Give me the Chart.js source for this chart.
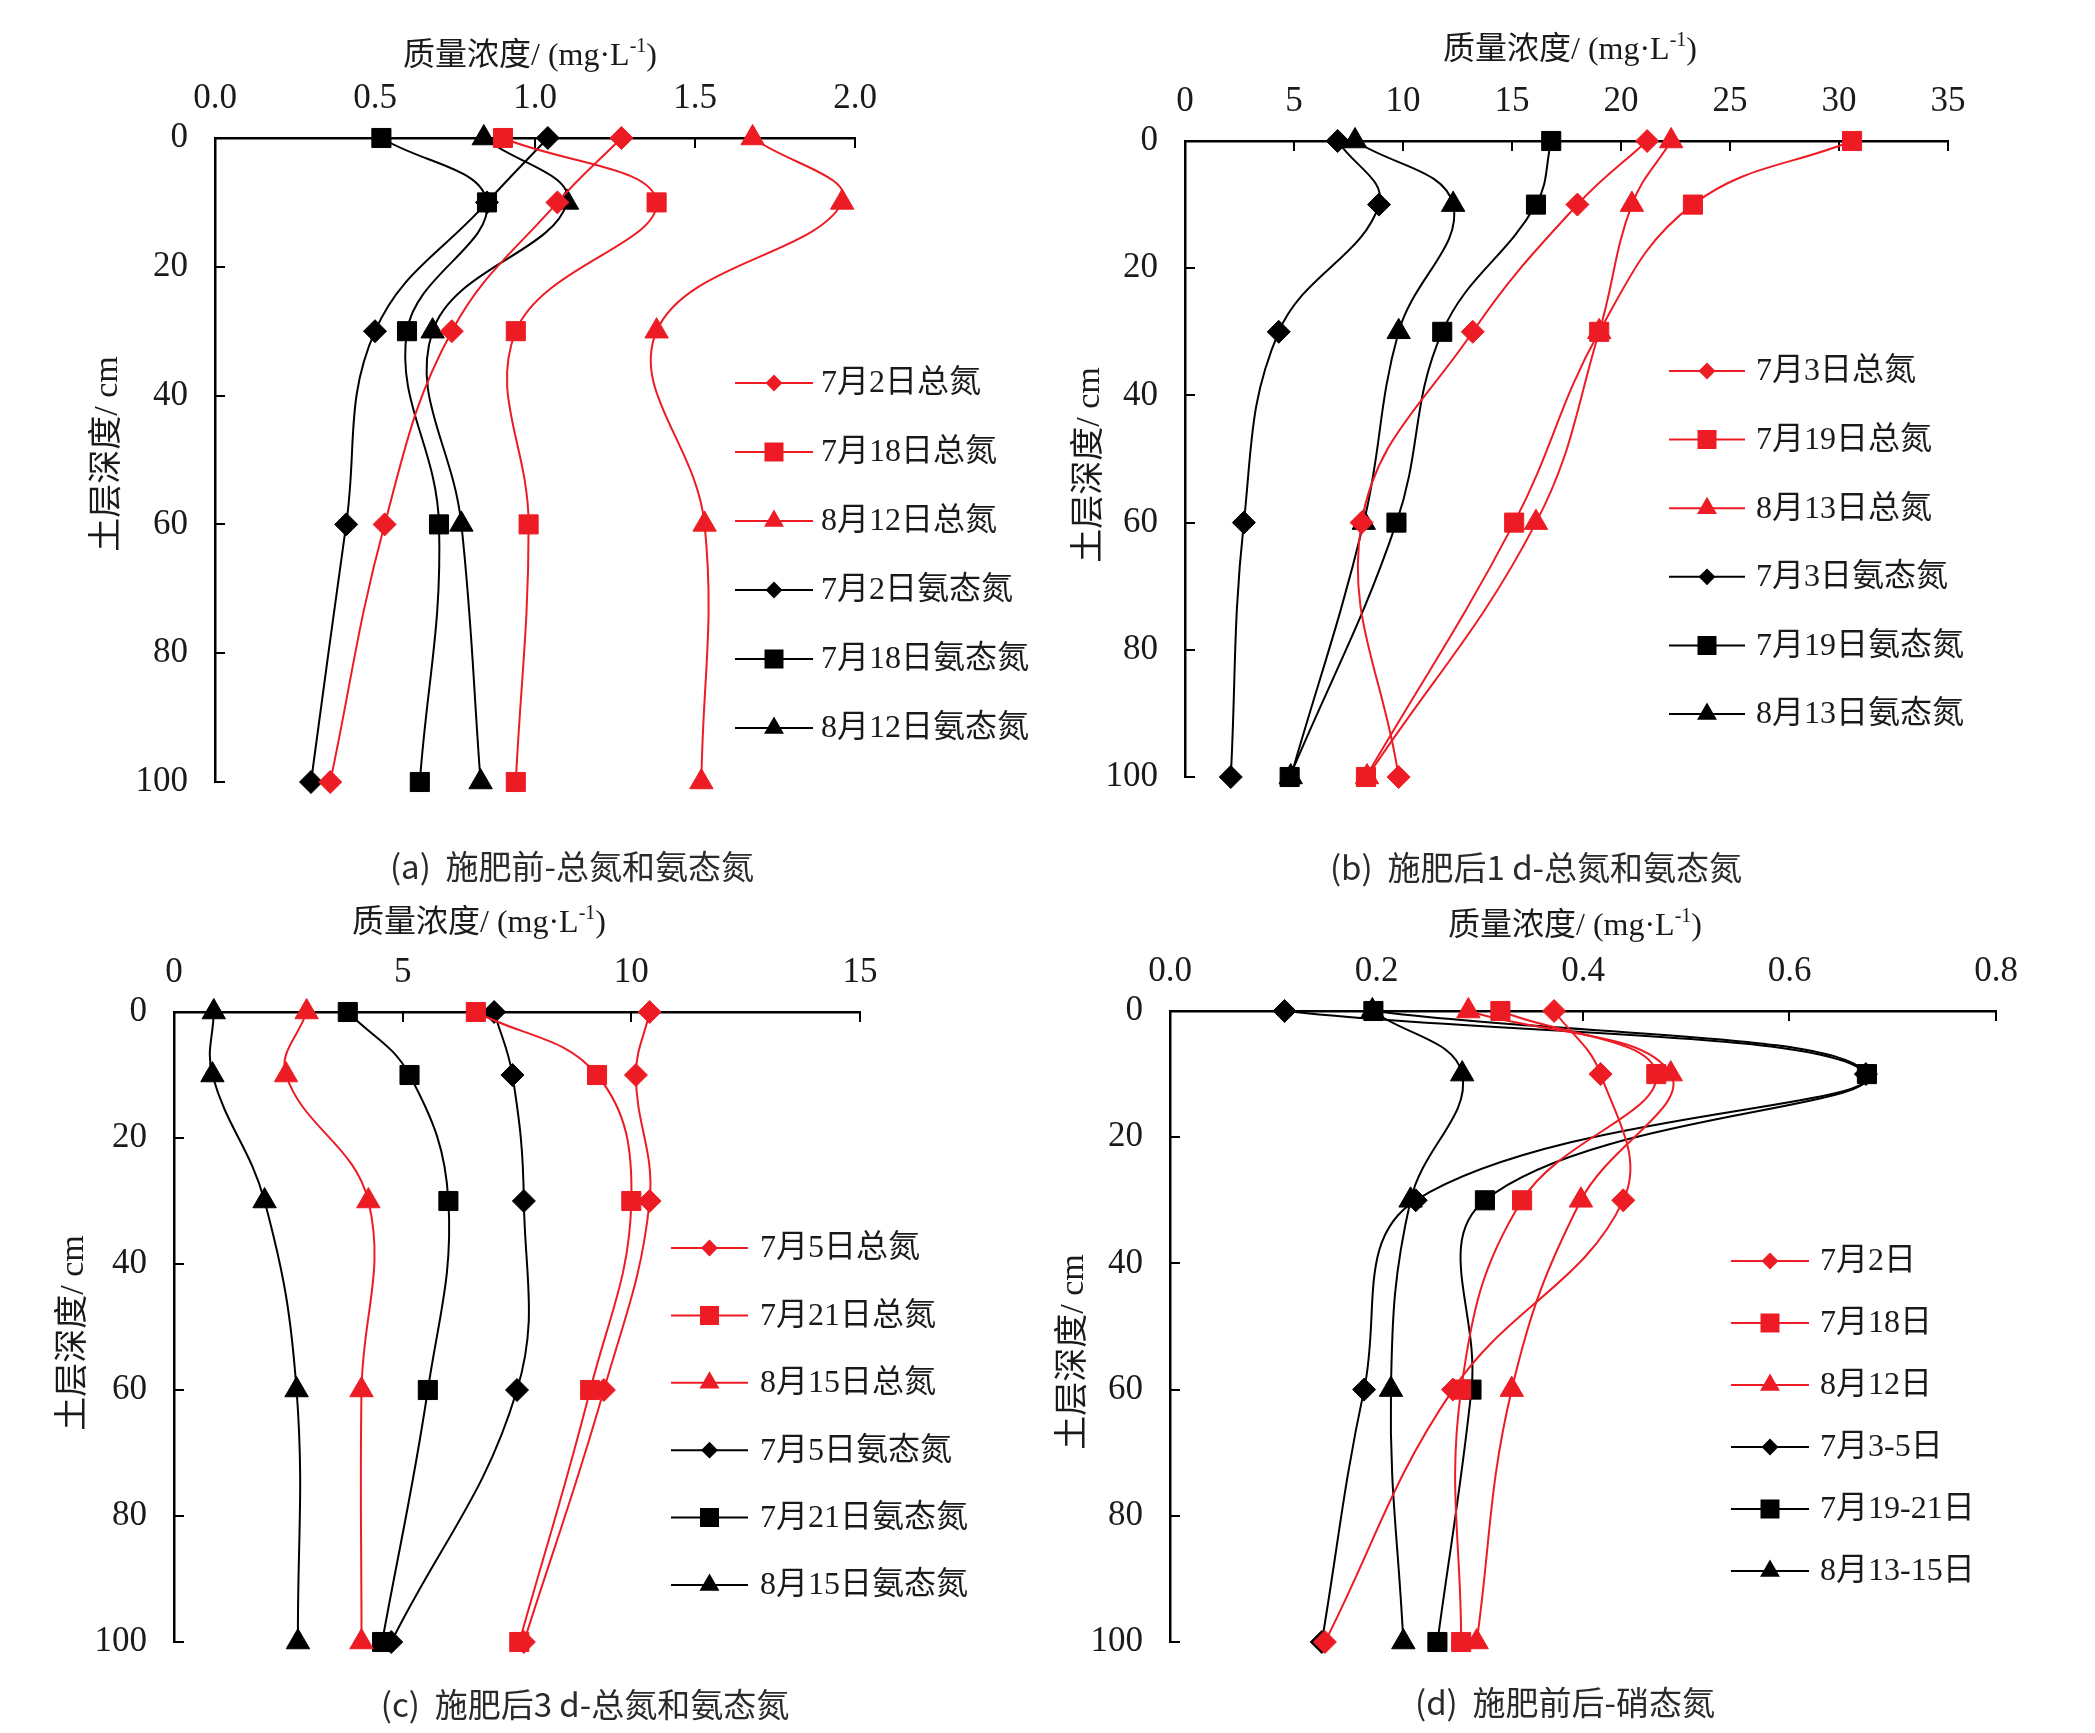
<!DOCTYPE html>
<html>
<head>
<meta charset="utf-8">
<script src="https://cdn.jsdelivr.net/npm/chart.js@4.4.1/dist/chart.umd.min.js"></script>
<style>
  body { margin: 0; background: #fff; width: 2095px; height: 1733px; position: relative; overflow: hidden; }
  .panel { position: absolute; }
  .cap {
    position: absolute; white-space: nowrap; transform: translate(-50%, -50%);
    font-family: "Noto Sans CJK SC", sans-serif; font-weight: 400; font-size: 33px; color: #2a2a2a;
  }
</style>
</head>
<body>
<div class="panel" style="left:0px;top:0px;width:1045px;height:840px"><canvas id="chartA"></canvas></div>
<div class="panel" style="left:1045px;top:0px;width:1050px;height:840px"><canvas id="chartB"></canvas></div>
<div class="panel" style="left:0px;top:880px;width:1045px;height:820px"><canvas id="chartC"></canvas></div>
<div class="panel" style="left:1045px;top:880px;width:1050px;height:820px"><canvas id="chartD"></canvas></div>

<div class="cap" style="left:572px;top:865px">(a)&nbsp; 施肥前-总氮和氨态氮</div>
<div class="cap" style="left:1536px;top:866px">(b)&nbsp; 施肥后1 d-总氮和氨态氮</div>
<div class="cap" style="left:585px;top:1703px">(c)&nbsp; 施肥后3 d-总氮和氨态氮</div>
<div class="cap" style="left:1565px;top:1701px">(d)&nbsp; 施肥前后-硝态氮</div>

<script>
// soil depth (cm) of every sample
const depth = [0, 10, 30, 60, 100];
const depthTicks = [0, 20, 40, 60, 80, 100];

// (a) before fertilising
const aLabels = ["7月2日总氮", "7月18日总氮", "8月12日总氮", "7月2日氨态氮", "7月18日氨态氮", "8月12日氨态氮"];
const aTN0702 = [1.27, 1.07, 0.74, 0.53, 0.36];
const aTN0718 = [0.90, 1.38, 0.94, 0.98, 0.94];
const aTN0812 = [1.68, 1.96, 1.38, 1.53, 1.52];
const aAN0702 = [1.04, 0.85, 0.50, 0.41, 0.30];
const aAN0718 = [0.52, 0.85, 0.60, 0.70, 0.64];
const aAN0812 = [0.84, 1.10, 0.68, 0.77, 0.83];
const aTicks = [0, 0.5, 1.0, 1.5, 2.0];

// (b) 1 d after fertilising
const bLabels = ["7月3日总氮", "7月19日总氮", "8月13日总氮", "7月3日氨态氮", "7月19日氨态氮", "8月13日氨态氮"];
const bTN0703 = [21.2, 18.0, 13.2, 8.1, 9.8];
const bTN0719 = [30.6, 23.3, 19.0, 15.1, 8.3];
const bTN0813 = [22.3, 20.5, 19.0, 16.1, 8.35];
const bAN0703 = [7.0, 8.9, 4.3, 2.7, 2.1];
const bAN0719 = [16.8, 16.1, 11.8, 9.7, 4.8];
const bAN0813 = [7.8, 12.3, 9.8, 8.2, 4.85];
const bTicks = [0, 5, 10, 15, 20, 25, 30, 35];

// (c) 3 d after fertilising
const cLabels = ["7月5日总氮", "7月21日总氮", "8月15日总氮", "7月5日氨态氮", "7月21日氨态氮", "8月15日氨态氮"];
const cTN0705 = [10.4, 10.1, 10.4, 9.4, 7.65];
const cTN0721 = [6.6, 9.25, 10.0, 9.1, 7.55];
const cTN0815 = [2.9, 2.45, 4.25, 4.1, 4.1];
const cAN0705 = [7.0, 7.4, 7.65, 7.5, 4.75];
const cAN0721 = [3.8, 5.15, 6.0, 5.55, 4.55];
const cAN0815 = [0.87, 0.84, 1.98, 2.68, 2.71];
const cTicks = [0, 5, 10, 15];

// (d) nitrate before / after
const dLabels = ["7月2日", "7月18日", "8月12日", "7月3-5日", "7月19-21日", "8月13-15日"];
const dNO0702 = [0.372, 0.417, 0.439, 0.274, 0.150];
const dNO0718 = [0.320, 0.471, 0.341, 0.282, 0.282];
const dNO0812 = [0.289, 0.485, 0.398, 0.331, 0.297];
const dNO0703 = [0.111, 0.674, 0.238, 0.188, 0.147];
const dNO0719 = [0.197, 0.675, 0.305, 0.292, 0.259];
const dNO0813 = [0.196, 0.283, 0.233, 0.214, 0.226];
const dTicks = [0, 0.2, 0.4, 0.6, 0.8];

const RED = "rgb(237,28,36)";
const BLACK = "#000";
const SERIF = "'Liberation Serif', 'Times New Roman', 'Noto Sans CJK SC', serif";
const looks = [
  { color: RED, style: "rectRot", r: 11.5, lr: 7 },
  { color: RED, style: "rect", r: 13.5, lr: 12 },
  { color: RED, style: "triangle", r: 13.5, lr: 9.5 },
  { color: BLACK, style: "rectRot", r: 11.5, lr: 7 },
  { color: BLACK, style: "rect", r: 13.5, lr: 12 },
  { color: BLACK, style: "triangle", r: 13.5, lr: 9.5 },
];

const panelText = {
  id: "panelText",
  afterDraw(chart, args, o) {
    const ctx = chart.ctx;
    ctx.save();
    ctx.fillStyle = "#1a1a1a";

    // top axis title with superscript
    const big = "32px " + SERIF, small = "20px " + SERIF;
    const p1 = "质量浓度/ (mg·L", p2 = "-1", p3 = ")";
    ctx.font = big;
    const w1 = ctx.measureText(p1).width, w3 = ctx.measureText(p3).width;
    ctx.font = small;
    const w2 = ctx.measureText(p2).width;
    let x = o.xTitle[0] - (w1 + w2 + w3) / 2;
    const by = o.xTitle[1] + 11;
    ctx.textBaseline = "alphabetic";
    ctx.textAlign = "left";
    ctx.font = big; ctx.fillText(p1, x, by); x += w1;
    ctx.font = small; ctx.fillText(p2, x, by - 13); x += w2;
    ctx.font = big; ctx.fillText(p3, x, by);

    // left axis title
    ctx.save();
    ctx.translate(o.yTitle[0], o.yTitle[1]);
    ctx.rotate(-Math.PI / 2);
    ctx.textAlign = "center";
    ctx.textBaseline = "middle";
    ctx.font = "34px " + SERIF;
    ctx.fillText("土层深度/ cm", 0, 0);
    ctx.restore();

    // legend
    const lg = o.legend;
    ctx.font = "32px " + SERIF;
    ctx.textBaseline = "middle";
    chart.data.datasets.forEach((ds, i) => {
      const y = lg.y0 + i * lg.dy;
      ctx.strokeStyle = ds.borderColor;
      ctx.lineWidth = 2;
      ctx.beginPath();
      ctx.moveTo(lg.x0, y);
      ctx.lineTo(lg.x1, y);
      ctx.stroke();
      ctx.fillStyle = ds.borderColor;
      Chart.helpers.drawPoint(ctx, {
        pointStyle: ds.pointStyle, radius: looks[i].lr, borderWidth: 1, rotation: 0
      }, (lg.x0 + lg.x1) / 2, y);
      ctx.fillStyle = "#1a1a1a";
      ctx.fillText(ds.label, lg.tx, y + 1);
    });
    ctx.restore();
  }
};

function makeChart(id, labels, series, xTicks, decimals, box, text) {
  const datasets = series.map((vals, i) => ({
    label: labels[i],
    data: vals.map((v, k) => ({ x: v, y: depth[k] })),
    showLine: true,
    tension: 0.4,
    borderColor: looks[i].color,
    backgroundColor: looks[i].color,
    borderWidth: 2,
    pointStyle: looks[i].style,
    pointRadius: looks[i].r,
    pointBorderWidth: 1,
    pointBackgroundColor: looks[i].color,
    pointBorderColor: looks[i].color,
    clip: false,
  }));

  const tickFont = { family: "'Liberation Serif', 'Times New Roman', serif", size: 35 };

  return new Chart(document.getElementById(id), {
    type: "scatter",
    data: { datasets },
    options: {
      responsive: true,
      maintainAspectRatio: false,
      animation: false,
      events: [],
      layout: { padding: { left: 0, top: 0, right: box.padR, bottom: box.padB } },
      plugins: { legend: { display: false }, tooltip: { enabled: false }, panelText: text },
      scales: {
        x: {
          type: "linear",
          position: "top",
          min: xTicks[0],
          max: xTicks[xTicks.length - 1],
          afterBuildTicks: (s) => { s.ticks = xTicks.map((v) => ({ value: v })); },
          afterFit: (s) => { s.height = box.top; },
          ticks: {
            color: "#1a1a1a",
            font: tickFont,
            padding: 28,
            maxRotation: 0,
            callback: (v) => Number(v).toFixed(decimals),
          },
          grid: { drawOnChartArea: false, drawTicks: true, tickLength: -10, color: "#000", lineWidth: 2 },
          border: { display: true, color: "#000", width: 2.5 },
        },
        y: {
          type: "linear",
          reverse: true,
          min: 0,
          max: 100,
          afterBuildTicks: (s) => { s.ticks = depthTicks.map((v) => ({ value: v })); },
          afterFit: (s) => { s.width = box.left; },
          ticks: { color: "#1a1a1a", font: tickFont, padding: 37 },
          grid: { drawOnChartArea: false, drawTicks: true, tickLength: -10, color: "#000", lineWidth: 2 },
          border: { display: true, color: "#000", width: 2.5 },
        },
      },
    },
    plugins: [panelText],
  });
}

makeChart("chartA", aLabels, [aTN0702, aTN0718, aTN0812, aAN0702, aAN0718, aAN0812], aTicks, 1,
  { left: 215, top: 138, padR: 190, padB: 49 },
  { xTitle: [530, 54], yTitle: [108, 454], legend: { x0: 735, x1: 813, tx: 821, y0: 383, dy: 69 } });

makeChart("chartB", bLabels, [bTN0703, bTN0719, bTN0813, bAN0703, bAN0719, bAN0813], bTicks, 0,
  { left: 140, top: 141, padR: 147, padB: 63 },
  { xTitle: [525, 48], yTitle: [45, 465], legend: { x0: 624, x1: 700, tx: 711, y0: 371, dy: 68.6 } });

makeChart("chartC", cLabels, [cTN0705, cTN0721, cTN0815, cAN0705, cAN0721, cAN0815], cTicks, 0,
  { left: 174, top: 132, padR: 185, padB: 55 },
  { xTitle: [479, 41], yTitle: [74, 453], legend: { x0: 671, x1: 748, tx: 760, y0: 368, dy: 67.4 } });

makeChart("chartD", dLabels, [dNO0702, dNO0718, dNO0812, dNO0703, dNO0719, dNO0813], dTicks, 1,
  { left: 125, top: 131, padR: 99, padB: 45 },
  { xTitle: [530, 44], yTitle: [29, 472], legend: { x0: 686, x1: 764, tx: 775, y0: 381, dy: 62 } });
</script>
</body>
</html>
